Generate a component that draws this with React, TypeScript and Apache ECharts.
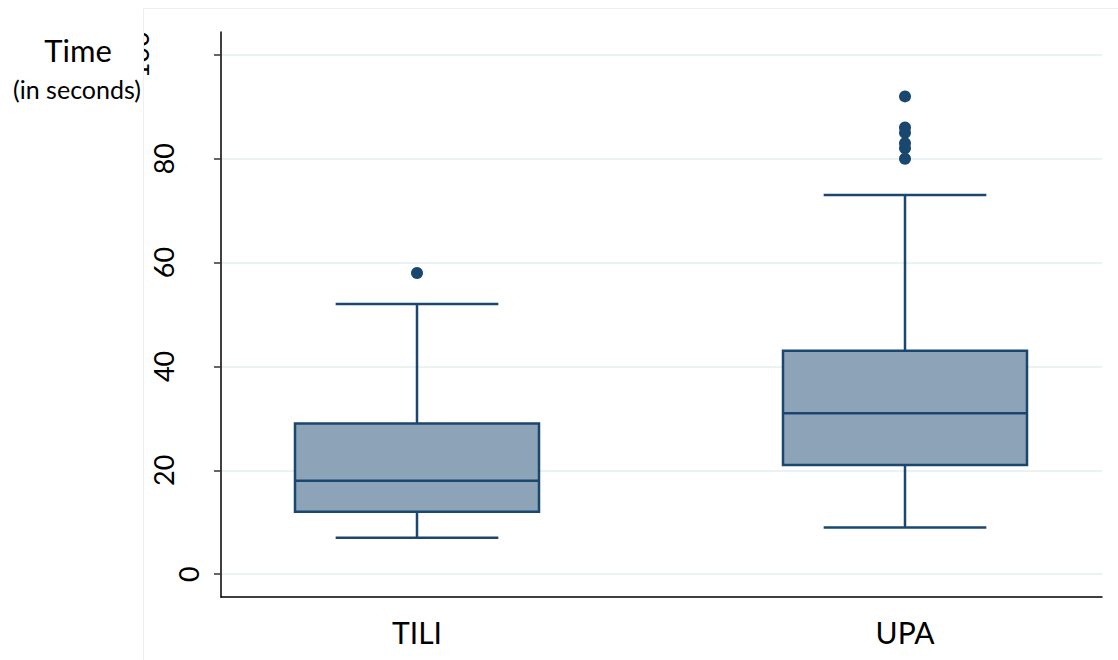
import React, { useEffect, useRef } from "react";
import * as echarts from "echarts";

const categories = ["TILI", "UPA"];
const whiskerLow = [7, 9];
const quartile1 = [12, 21];
const medians = [18, 31];
const quartile3 = [29, 43];
const whiskerHigh = [52, 73];
const outliersTILI = [58];
const outliersUPA = [92, 86, 85, 83, 82, 80];
const yTickMin = 0;
const yTickMax = 100;
const yTickStep = 20;
const yTitle = "Time";
const ySubtitle = "(in seconds)";

const NAVY = "#1a476f";
const FILL = "#8da3b7";
const GRID = "#eaf2f3";
const FONT = "Lato";

export default function App() {
  const ref = useRef<HTMLDivElement>(null);
  useEffect(() => {
    if (!ref.current) return;
    const chart = echarts.init(ref.current, null, { renderer: "svg" });
    const boxData = categories.map((_, i) => [
      i,
      whiskerLow[i],
      quartile1[i],
      medians[i],
      quartile3[i],
      whiskerHigh[i],
    ]);
    const outlierData = [
      ...outliersTILI.map((v) => [0, v]),
      ...outliersUPA.map((v) => [1, v]),
    ];
    const lo = -4.4;
    const hi = 104.4;
    const option: any = {
      animation: false,
      backgroundColor: "#ffffff",
      grid: [
        { left: 221, right: 16, top: 32, bottom: 63 },
        { left: 221, right: 16, top: 54.85, bottom: 85.85 },
        { left: 417, right: 213, top: 32, bottom: 63 },
      ],
      xAxis: [
        {
          gridIndex: 0,
          type: "value",
          min: 0,
          max: 1,
          axisLine: { show: true, onZero: false, lineStyle: { color: "#000", width: 1.5 } },
          axisTick: { show: false },
          axisLabel: { show: false },
          splitLine: { show: false },
        },
        {
          gridIndex: 1,
          type: "value",
          min: 0,
          max: 1,
          show: false,
        },
        {
          gridIndex: 2,
          type: "category",
          data: categories,
          boundaryGap: false,
          axisLine: { show: false, onZero: false },
          axisTick: { show: false },
          splitLine: { show: false },
          axisLabel: {
            show: true,
            margin: 20,
            color: "#000",
            fontFamily: FONT,
            fontSize: 30,
            showMinLabel: true,
            showMaxLabel: true,
          },
        },
      ],
      yAxis: [
        {
          gridIndex: 0,
          type: "value",
          min: lo,
          max: hi,
          axisLine: { show: true, onZero: false, lineStyle: { color: "#000", width: 1.5 } },
          axisTick: { show: false },
          axisLabel: { show: false },
          splitLine: { show: false },
        },
        {
          gridIndex: 1,
          type: "value",
          min: yTickMin,
          max: yTickMax,
          interval: yTickStep,
          axisLine: { show: false },
          axisTick: {
            show: true,
            length: 7,
            lineStyle: { color: "#333", width: 1.5 },
          },
          splitLine: { show: true, lineStyle: { color: GRID, width: 2 } },
          axisLabel: {
            show: true,
            rotate: 90,
            margin: 19,
            color: "#000",
            fontFamily: FONT,
            fontSize: 27,
            formatter: (v: number) => {
              const s = String(v);
              return `{d${s.length}|${s}}`;
            },
            rich: {
              d1: { fontFamily: FONT, fontSize: 27, color: "#000" },
              d2: {
                fontFamily: FONT,
                fontSize: 27,
                color: "#000",
                padding: [0, 0, 25, 0],
              },
              d3: {
                fontFamily: FONT,
                fontSize: 27,
                color: "#000",
                padding: [0, 0, 50, 0],
              },
            },
          },
        },
        {
          gridIndex: 2,
          type: "value",
          min: lo,
          max: hi,
          show: false,
        },
      ],
      series: [
        {
          type: "custom",
          xAxisIndex: 2,
          yAxisIndex: 2,
          encode: { x: 0, y: [1, 2, 3, 4, 5] },
          data: boxData,
          clip: false,
          z: 3,
          renderItem: (params: any, api: any) => {
            const cat = api.value(0);
            const pLo = api.coord([cat, api.value(1)]);
            const pQ1 = api.coord([cat, api.value(2)]);
            const pMed = api.coord([cat, api.value(3)]);
            const pQ3 = api.coord([cat, api.value(4)]);
            const pHi = api.coord([cat, api.value(5)]);
            const band = api.size([1, 0])[0];
            const bw = band * 0.5;
            const cw = bw * (2 / 3);
            const cx = pQ1[0];
            const line = { stroke: NAVY, lineWidth: 2.5 };
            return {
              type: "group",
              children: [
                {
                  type: "line",
                  shape: { x1: cx, y1: pQ3[1], x2: cx, y2: pHi[1] },
                  style: line,
                },
                {
                  type: "line",
                  shape: { x1: cx, y1: pQ1[1], x2: cx, y2: pLo[1] },
                  style: line,
                },
                {
                  type: "line",
                  shape: { x1: cx - cw / 2, y1: pHi[1], x2: cx + cw / 2, y2: pHi[1] },
                  style: line,
                },
                {
                  type: "line",
                  shape: { x1: cx - cw / 2, y1: pLo[1], x2: cx + cw / 2, y2: pLo[1] },
                  style: line,
                },
                {
                  type: "rect",
                  shape: {
                    x: cx - bw / 2,
                    y: pQ3[1],
                    width: bw,
                    height: pQ1[1] - pQ3[1],
                  },
                  style: { fill: FILL, stroke: NAVY, lineWidth: 2.5 },
                },
                {
                  type: "line",
                  shape: { x1: cx - bw / 2, y1: pMed[1], x2: cx + bw / 2, y2: pMed[1] },
                  style: { stroke: NAVY, lineWidth: 2.5 },
                },
              ],
            };
          },
        },
        {
          type: "scatter",
          xAxisIndex: 2,
          yAxisIndex: 2,
          data: outlierData,
          symbol: "circle",
          symbolSize: 12,
          clip: false,
          itemStyle: { color: NAVY, opacity: 1 },
          z: 4,
        },
      ],
      graphic: [
        {
          type: "rect",
          z: 100,
          shape: { x: 143.5, y: 8.5, width: 1100, height: 700 },
          style: { fill: "none", stroke: "#efefef", lineWidth: 1 },
        },
        {
          type: "rect",
          z: 100,
          shape: { x: 0, y: 0, width: 143, height: 660 },
          style: { fill: "#ffffff" },
        },
        {
          type: "text",
          z: 101,
          x: 78,
          y: 50,
          style: {
            text: yTitle,
            fontFamily: FONT,
            fontSize: 31,
            fill: "#000",
            align: "center",
            verticalAlign: "middle",
          },
        },
        {
          type: "text",
          z: 101,
          x: 77,
          y: 89,
          style: {
            text: ySubtitle,
            fontFamily: FONT,
            fontSize: 25,
            fill: "#000",
            align: "center",
            verticalAlign: "middle",
          },
        },
      ],
    };
    chart.setOption(option);
    return () => chart.dispose();
  }, []);
  return (
    <div
      ref={ref}
      style={{ position: "absolute", left: 0, top: 0, width: 1118, height: 660 }}
    />
  );
}
